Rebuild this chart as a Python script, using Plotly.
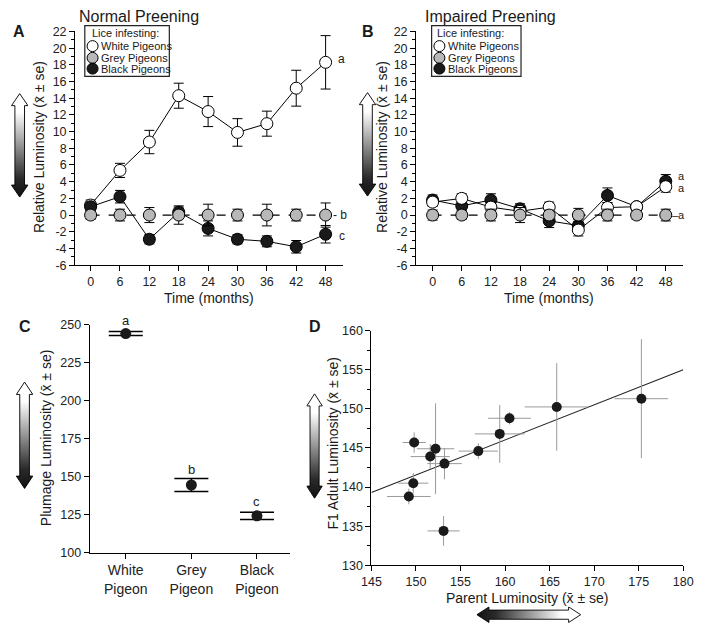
import base64
import plotly.graph_objects as go

# ---------------- data ----------------
months = [0, 6, 12, 18, 24, 30, 36, 42, 48]

a_white = [1.2, 5.35, 8.75, 14.3, 12.4, 9.9, 10.95, 15.2, 18.3]
a_white_se = [0.6, 0.85, 1.4, 1.5, 1.8, 1.65, 1.5, 2.15, 3.2]
a_grey = [0, 0, 0, 0, 0, 0, 0, 0, 0]
a_grey_se = [0.5, 0.7, 0.9, 1.1, 1.3, 0.7, 1.3, 0.7, 1.45]
a_black = [1.0, 2.2, -2.9, 0.35, -1.6, -2.9, -3.15, -3.8, -2.3]
a_black_se = [0.55, 0.75, 0.55, 0.6, 0.9, 0.55, 0.65, 0.75, 1.05]

b_white = [1.55, 2.0, 0.95, 0.45, 0.95, -1.8, 0.9, 1.0, 3.4]
b_white_se = [0.5, 0.55, 0.6, 0.5, 0.6, 0.7, 0.6, 0.4, 0.65]
b_grey = [0, 0, 0, 0, 0, 0, 0, 0, 0]
b_grey_se = [0.6, 0.5, 0.7, 0.9, 0.6, 0.8, 0.7, 0.5, 0.7]
b_black = [1.8, 1.1, 1.8, 0.75, -0.7, -1.25, 2.35, 1.0, 4.05]
b_black_se = [0.6, 0.5, 0.75, 0.6, 0.8, 0.7, 0.9, 0.4, 0.8]

lum_ticks = [-6, -4, -2, 0, 2, 4, 6, 8, 10, 12, 14, 16, 18, 20, 22]
lum_ticktext = ["-6", "-4", "-2", "0", "2", "4", "6", "8", "10", "12", "14", "16", "18", "20", "22"]

c_categories = ["White<br>Pigeon", "Grey<br>Pigeon", "Black<br>Pigeon"]
c_means = [244.2, 144.5, 124.2]
c_se = [1.3, 4.3, 2.45]
c_letters = ["a", "b", "c"]
c_letter_y = [252.5, 154.5, 133.5]
c_range = [100, 250]

d_parent = [175.3, 165.8, 160.5, 159.4, 157.0, 149.8, 152.2, 151.6, 153.2, 149.7, 149.2, 153.1]
d_parent_se = [3.0, 3.6, 2.4, 2.8, 2.2, 1.3, 2.1, 2.2, 1.95, 1.7, 2.45, 1.8]
d_f1 = [151.3, 150.25, 148.8, 146.8, 144.6, 145.7, 144.9, 143.9, 143.0, 140.5, 138.8, 134.4]
d_f1_se = [7.6, 5.6, 0.8, 3.7, 1.0, 1.3, 5.8, 1.6, 2.0, 1.3, 1.0, 1.9]
d_fit_x = [145, 180]
d_fit_y = [139.3, 155.0]

legend_names = ["White Pigeons", "Grey Pigeons", "Black Pigeons"]

# ---------------- styling ----------------
W, H = 702, 630
FONT = "Liberation Sans, Arial, Helvetica, sans-serif"
WHITE, GREY, BLACK = "#ffffff", "#b8b8b8", "#1a1a1a"


def px(x):
    return x / W


def py(y):
    return 1 - y / H


fig = go.Figure()


def series(xa, ya, y, se, color, dashed=False, size=12):
    fig.add_trace(go.Scatter(
        x=months, y=y, xaxis=xa, yaxis=ya, mode="lines+markers",
        line=dict(color="black", width=1.2 if dashed else 1, dash="dash" if dashed else "solid"),
        marker=dict(size=size, color=color, line=dict(color="black", width=1)),
        error_y=dict(type="data", array=se, color="black", thickness=1, width=5),
        showlegend=False, hoverinfo="skip"))


# Panel A: white, black, grey
series("x", "y", a_white, a_white_se, WHITE)
series("x", "y", a_black, a_black_se, BLACK)
series("x", "y", a_grey, a_grey_se, GREY, dashed=True)
# Panel B: black, white, grey
series("x2", "y2", b_black, b_black_se, BLACK)
series("x2", "y2", b_white, b_white_se, WHITE)
series("x2", "y2", b_grey, b_grey_se, GREY, dashed=True)

# Panel C
fig.add_trace(go.Scatter(
    x=c_categories, y=c_means, xaxis="x3", yaxis="y3", mode="markers",
    marker=dict(size=11, color=BLACK),
    error_y=dict(type="data", array=c_se, color="black", thickness=1.5, width=17),
    showlegend=False, hoverinfo="skip"))

# Panel D
fig.add_trace(go.Scatter(
    x=d_fit_x, y=d_fit_y, xaxis="x4", yaxis="y4", mode="lines",
    line=dict(color="#222222", width=1.1), showlegend=False, hoverinfo="skip"))
fig.add_trace(go.Scatter(
    x=d_parent, y=d_f1, xaxis="x4", yaxis="y4", mode="markers",
    marker=dict(size=10, color=BLACK),
    error_x=dict(type="data", array=d_parent_se, color="#9a9a9a", thickness=1, width=0),
    error_y=dict(type="data", array=d_f1_se, color="#9a9a9a", thickness=1, width=0),
    showlegend=False, hoverinfo="skip"))

tickfont = dict(family=FONT, size=12.5, color="#222")


def axis(domain, rng, **kw):
    d = dict(domain=domain, range=rng, showline=True, linecolor="black", linewidth=1,
             ticks="outside", ticklen=5, tickcolor="black", tickwidth=1,
             showgrid=False, zeroline=False, tickfont=tickfont, fixedrange=True,
             ticklabeloverflow="allow")
    d.update(kw)
    return d


yA = [py(264), py(25)]
fig.update_layout(
    xaxis=axis([px(67), px(343)], [-3.17, 51.6], tickvals=months),
    yaxis=axis(yA, [-6, 22], tickvals=lum_ticks, ticktext=lum_ticktext,
               minor=dict(ticks="outside", ticklen=3, dtick=1, tickcolor="black")),
    xaxis2=axis([px(418), px(693)], [-3.4, 51.6], tickvals=months, anchor="y2"),
    yaxis2=axis(yA, [-6, 22], tickvals=lum_ticks, ticktext=lum_ticktext, anchor="x2",
                minor=dict(ticks="outside", ticklen=3, dtick=1, tickcolor="black")),
    xaxis3=axis([px(82), px(288)], [-0.55, 2.5], type="category", anchor="y3",
                tickfont=dict(family=FONT, size=14, color="#222")),
    yaxis3=axis([py(558), py(325)], c_range, dtick=25, tick0=100, anchor="x3"),
    xaxis4=axis([px(372), px(693)], [145, 180], dtick=5, tick0=145, anchor="y4"),
    yaxis4=axis([py(571), py(331)], [130, 160], dtick=5, tick0=130, anchor="x4",
                minor=dict(ticks="outside", ticklen=3, dtick=2.5, tickcolor="black")),
)

ann = []


def text(x, y, s, size=14, bold=False, angle=0, xanchor="center", xref="paper", yref="paper", color="#1a1a1a"):
    ann.append(dict(x=x, y=y, xref=xref, yref=yref, text=("<b>%s</b>" % s) if bold else s,
                    showarrow=False, textangle=angle, xanchor=xanchor, yanchor="middle",
                    font=dict(family=FONT, size=size, color=color)))


# titles / panel letters
text(px(133), py(10), "Normal Preening", size=16)
text(px(495), py(10), "Impaired Preening", size=16)
text(px(9), py(25), "A", size=16, bold=True)
text(px(369), py(25), "B", size=16, bold=True)
text(px(15), py(327), "C", size=16, bold=True)
text(px(314), py(327), "D", size=16, bold=True)

# axis titles
text(px(205), py(298), "Time (months)")
text(px(555), py(298), "Time (months)")
text(px(30), py(143), "Relative Luminosity (x\u0304 \u00b1 se)", angle=-90)
text(px(383), py(143), "Relative Luminosity (x\u0304 \u00b1 se)", angle=-90)
text(px(37), py(440), "Plumage Luminosity (x\u0304 \u00b1 se)", angle=-90)
text(px(333), py(446), "F1 Adult Luminosity (x\u0304 \u00b1 se)", angle=-90)
text(px(533), py(604), "Parent Luminosity (x\u0304 \u00b1 se)")

# significance letters
text(51.2, a_white[-1] + 0.4, "a", size=12, xref="x", yref="y")
text(51.0, a_grey[-1], "- b", size=12, xref="x", yref="y")
text(51.3, a_black[-1] - 0.15, "c", size=12, xref="x", yref="y")
text(51.3, b_black[-1] + 0.6, "a", size=11, xref="x2", yref="y2")
text(51.3, b_white[-1] - 0.1, "a", size=11, xref="x2", yref="y2")
text(50.7, b_grey[-1], "\u2013a", size=11, xref="x2", yref="y2")
for cat, lab, ly in zip(c_categories, c_letters, c_letter_y):
    frac = (ly - c_range[0]) / (c_range[1] - c_range[0])
    text(cat, frac, lab, size=13, xref="x3", yref="y3 domain")

shapes = []
# legends (manual, compact)
for (bx0, bx1, tx, cx) in [(77, 164, 82, 85), (434, 526, 437, 442)]:
    shapes.append(dict(type="rect", xref="paper", yref="paper", x0=px(bx0), x1=px(bx1),
                       y0=py(71), y1=py(19), line=dict(color="#222", width=1.2),
                       fillcolor="white", layer="above"))
    text(px(tx), py(27), "Lice infesting:", size=11, xanchor="left")
    for name, col, yy in zip(legend_names, [WHITE, GREY, BLACK], [40, 52, 63]):
        shapes.append(dict(type="circle", xref="paper", yref="paper", xsizemode="pixel",
                           ysizemode="pixel", xanchor=px(cx), yanchor=py(yy),
                           x0=-5.5, x1=5.5, y0=-5.5, y1=5.5,
                           fillcolor=col, line=dict(color="black", width=1), layer="above"))
        text(px(cx + 7), py(yy), name, size=11, xanchor="left")


# gradient arrows as inline SVG images
def arrow_svg(horizontal=False):
    if not horizontal:
        w, h = 20, 108
        grad = ("<linearGradient id='g' x1='0' y1='0' x2='0' y2='1'>"
                "<stop offset='0' stop-color='#ffffff'/><stop offset='0.18' stop-color='#ffffff'/>"
                "<stop offset='0.82' stop-color='#2a2a2a'/><stop offset='1' stop-color='#111111'/>"
                "</linearGradient>")
        path = "M10 0.6 L19.4 13 L15.5 13 L15.5 95 L19.4 95 L10 107.4 L0.6 95 L4.5 95 L4.5 13 L0.6 13 Z"
    else:
        w, h = 108, 20
        grad = ("<linearGradient id='g' x1='0' y1='0' x2='1' y2='0'>"
                "<stop offset='0' stop-color='#111111'/><stop offset='0.18' stop-color='#2a2a2a'/>"
                "<stop offset='0.82' stop-color='#ffffff'/><stop offset='1' stop-color='#ffffff'/>"
                "</linearGradient>")
        path = "M0.6 10 L13 0.6 L13 4.5 L95 4.5 L95 0.6 L107.4 10 L95 19.4 L95 15.5 L13 15.5 L13 19.4 Z"
    svg = ("<svg xmlns='http://www.w3.org/2000/svg' width='%d' height='%d' viewBox='0 0 %d %d' "
           "preserveAspectRatio='none'><defs>%s</defs><path d='%s' fill='url(#g)' stroke='#000' "
           "stroke-width='1'/></svg>") % (w, h, w, h, grad, path)
    return "data:image/svg+xml;base64," + base64.b64encode(svg.encode()).decode()


images = []
for (x0, y0, w, h) in [(1, 88, 18, 107), (359, 87, 18, 107), (6, 383, 18, 110), (305, 395, 17, 108)]:
    images.append(dict(source=arrow_svg(False), xref="paper", yref="paper", x=px(x0), y=py(y0),
                       sizex=w / W, sizey=h / H, xanchor="left", yanchor="top",
                       sizing="stretch", layer="above"))
images.append(dict(source=arrow_svg(True), xref="paper", yref="paper", x=px(480), y=py(613),
                   sizex=108 / W, sizey=17 / H, xanchor="left", yanchor="top",
                   sizing="stretch", layer="above"))

fig.update_layout(
    width=W, height=H, autosize=False,
    margin=dict(l=0, r=0, t=0, b=0),
    paper_bgcolor="white", plot_bgcolor="white",
    font=dict(family=FONT, size=12, color="#222"),
    annotations=ann, shapes=shapes, images=images,
    showlegend=False,
)

fig.write_html("out.html", config={"displayModeBar": False},
               post_script="document.body.style.margin='0';document.body.style.overflow='hidden';")
